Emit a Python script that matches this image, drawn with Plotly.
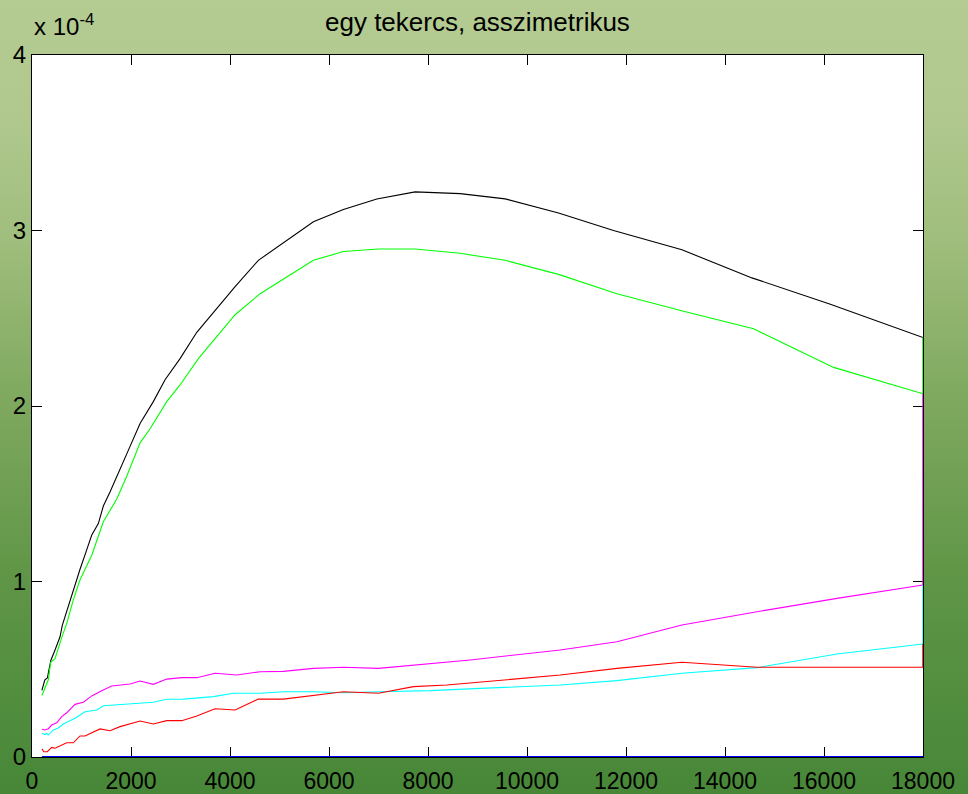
import base64
import plotly.graph_objects as go

# Frequency axis (Hz) and curves, y in units of 1e-4
black_x = [200, 260, 310, 380, 465, 566, 612, 700, 835, 970, 1105, 1207, 1340, 1441, 1576,
           1778, 1981, 2183, 2451, 2688, 2991, 3329, 4103, 4573, 5685, 6291, 6966, 7740,
           8650, 9559, 10637, 11748, 13130, 14545, 16128, 18000]
black_y = [0.38, 0.44, 0.45, 0.55, 0.61, 0.685, 0.75, 0.83, 0.95, 1.07, 1.18, 1.265, 1.33,
           1.43, 1.51, 1.645, 1.77, 1.90, 2.025, 2.15, 2.27, 2.42, 2.68, 2.83, 3.05, 3.12,
           3.18, 3.22, 3.21, 3.18, 3.10, 3.00, 2.89, 2.73, 2.58, 2.39]

green_x = [200, 260, 330, 378, 465, 600, 700, 835, 970, 1207, 1441, 1712, 1914, 2183, 2385,
           2722, 2991, 3361, 4103, 4608, 5685, 6291, 6999, 7740, 8246, 8650, 9559, 10637,
           11817, 13163, 14578, 16194, 18000]
green_y = [0.35, 0.39, 0.44, 0.54, 0.56, 0.68, 0.76, 0.895, 1.01, 1.15, 1.34, 1.47, 1.60,
           1.79, 1.87, 2.025, 2.12, 2.27, 2.52, 2.64, 2.83, 2.88, 2.895, 2.895, 2.88, 2.87,
           2.83, 2.75, 2.64, 2.54, 2.44, 2.22, 2.07]

magenta_x = [200, 260, 330, 398, 499, 600, 701, 869, 1037, 1207, 1409, 1611, 1981, 2183, 2451,
             2722, 3025, 3329, 3698, 4137, 4608, 5079, 5685, 6291, 6999, 7706, 8515, 8852,
             10671, 11817, 13130, 14646, 16263, 18000]
magenta_y = [0.158, 0.154, 0.161, 0.182, 0.195, 0.23, 0.252, 0.30, 0.312, 0.348, 0.378, 0.405,
             0.416, 0.433, 0.414, 0.444, 0.452, 0.452, 0.477, 0.467, 0.486, 0.488, 0.505,
             0.511, 0.505, 0.524, 0.543, 0.553, 0.61, 0.657, 0.752, 0.828, 0.904, 0.98]

cyan_x = [200, 260, 290, 330, 431, 532, 633, 869, 1071, 1308, 1441, 1643, 1981, 2451, 2722,
          3058, 3664, 4068, 4608, 5079, 5685, 6291, 7033, 8044, 9054, 10671, 11817, 13130,
          14646, 16263, 18000]
cyan_y = [0.135, 0.127, 0.135, 0.125, 0.154, 0.165, 0.188, 0.221, 0.258, 0.268, 0.292, 0.296,
          0.306, 0.312, 0.329, 0.330, 0.344, 0.363, 0.363, 0.372, 0.372, 0.366, 0.372, 0.378,
          0.391, 0.41, 0.435, 0.477, 0.509, 0.587, 0.644]

red_x = [200, 240, 309, 398, 465, 566, 701, 835, 970, 1071, 1374, 1576, 1778, 2183, 2451, 2722,
         3025, 3329, 3698, 4103, 4573, 5079, 5685, 6291, 6999, 7706, 8381, 9054, 10671, 11817,
         13130, 14646, 18000]
red_y = [0.046, 0.030, 0.030, 0.055, 0.050, 0.063, 0.081, 0.081, 0.120, 0.120, 0.160, 0.150,
         0.173, 0.205, 0.188, 0.207, 0.207, 0.234, 0.275, 0.268, 0.330, 0.330, 0.349, 0.372,
         0.363, 0.401, 0.41, 0.426, 0.467, 0.505, 0.540, 0.511, 0.511]

blue_x = [200, 18000]
blue_y = [0.0, 0.0]

x_ticks = [0, 2000, 4000, 6000, 8000, 10000, 12000, 14000, 16000, 18000]
y_ticks = [0, 1, 2, 3, 4]

title_text = "egy tekercs, asszimetrikus"

W, H = 968, 794
ML, MR, MT, MB = 32, 45, 55, 37
PW, PH = W - ML - MR, H - MT - MB
FONT = "Liberation Sans, Arial, sans-serif"

series = [
    (black_x, black_y, "#000000"),
    (green_x, green_y, "#00ff00"),
    (magenta_x, magenta_y, "#ff00ff"),
    (cyan_x, cyan_y, "#00ffff"),
    (red_x, red_y, "#ff0000"),
]

fig = go.Figure()
for xs, ys, col in series:
    fig.add_trace(go.Scatter(x=xs, y=ys, mode="lines",
                             line=dict(color=col, width=1.1), hoverinfo="skip"))

# closing edges of each curve along the right border
for i in range(1, len(series)):
    prev = series[i - 1]
    cur = series[i]
    fig.add_trace(go.Scatter(x=[cur[0][-1], cur[0][-1]], y=[cur[1][-1], prev[1][-1]],
                             mode="lines", line=dict(color=cur[2], width=1.5),
                             hoverinfo="skip"))

fig.add_trace(go.Scatter(x=blue_x, y=blue_y, mode="lines",
                         line=dict(color="#0000ff", width=2), hoverinfo="skip"))

# vertical green gradient behind the axes
svg = (
    f'<svg xmlns="http://www.w3.org/2000/svg" width="{W}" height="{H}" '
    f'viewBox="0 0 {W} {H}" preserveAspectRatio="none">'
    '<defs><linearGradient id="g" x1="0" y1="0" x2="0" y2="1">'
    '<stop offset="0" stop-color="#b4cb92"/>'
    '<stop offset="0.15" stop-color="#b0c88e"/>'
    '<stop offset="0.3" stop-color="#a0be7d"/>'
    '<stop offset="0.5" stop-color="#7fa95f"/>'
    '<stop offset="0.73" stop-color="#5f9546"/>'
    '<stop offset="1" stop-color="#488738"/>'
    '</linearGradient></defs>'
    f'<rect x="0" y="0" width="{W}" height="{H}" fill="url(#g)"/></svg>'
)
src = "data:image/svg+xml;base64," + base64.b64encode(svg.encode()).decode()

fig.add_layout_image(dict(
    source=src, xref="paper", yref="paper",
    x=-ML / PW, y=1 + MT / PH, sizex=W / PW, sizey=H / PH,
    xanchor="left", yanchor="top", sizing="stretch", layer="below",
))
fig.add_shape(type="rect", xref="paper", yref="paper", x0=0, x1=1, y0=0, y1=1,
              fillcolor="white", line=dict(width=0), layer="below")

axis_common = dict(
    showgrid=False, zeroline=False, showline=True, linecolor="black", linewidth=1,
    mirror="ticks", ticks="inside", ticklen=10, tickcolor="black", tickwidth=1,
    layer="below traces", automargin=False,
)

fig.update_xaxes(range=[0, 18000], tickvals=x_ticks, ticktext=[str(v) for v in x_ticks],
                 ticklabelstandoff=3, tickfont=dict(family=FONT, size=23, color="black"),
                 **axis_common)
fig.update_yaxes(range=[0, 4], tickvals=y_ticks, ticktext=[str(v) for v in y_ticks],
                 tickfont=dict(family=FONT, size=24, color="black"), **axis_common)

fig.add_annotation(text=title_text, xref="paper", yref="paper", x=0.5,
                   y=1 + 33 / PH, xanchor="center", yanchor="middle", showarrow=False,
                   font=dict(family=FONT, size=26, color="black"))
fig.add_annotation(text="x 10<sup>-4</sup>", xref="paper", yref="paper", x=0, y=1,
                   xanchor="left", yanchor="bottom", yshift=13, showarrow=False,
                   font=dict(family=FONT, size=24, color="black"))

fig.update_layout(
    width=W, height=H, autosize=False,
    margin=dict(l=ML, r=MR, t=MT, b=MB, pad=0, autoexpand=False),
    paper_bgcolor="#80aa60", plot_bgcolor="white",
    showlegend=False,
)

fig.write_html("out.html", config={"displayModeBar": False})
